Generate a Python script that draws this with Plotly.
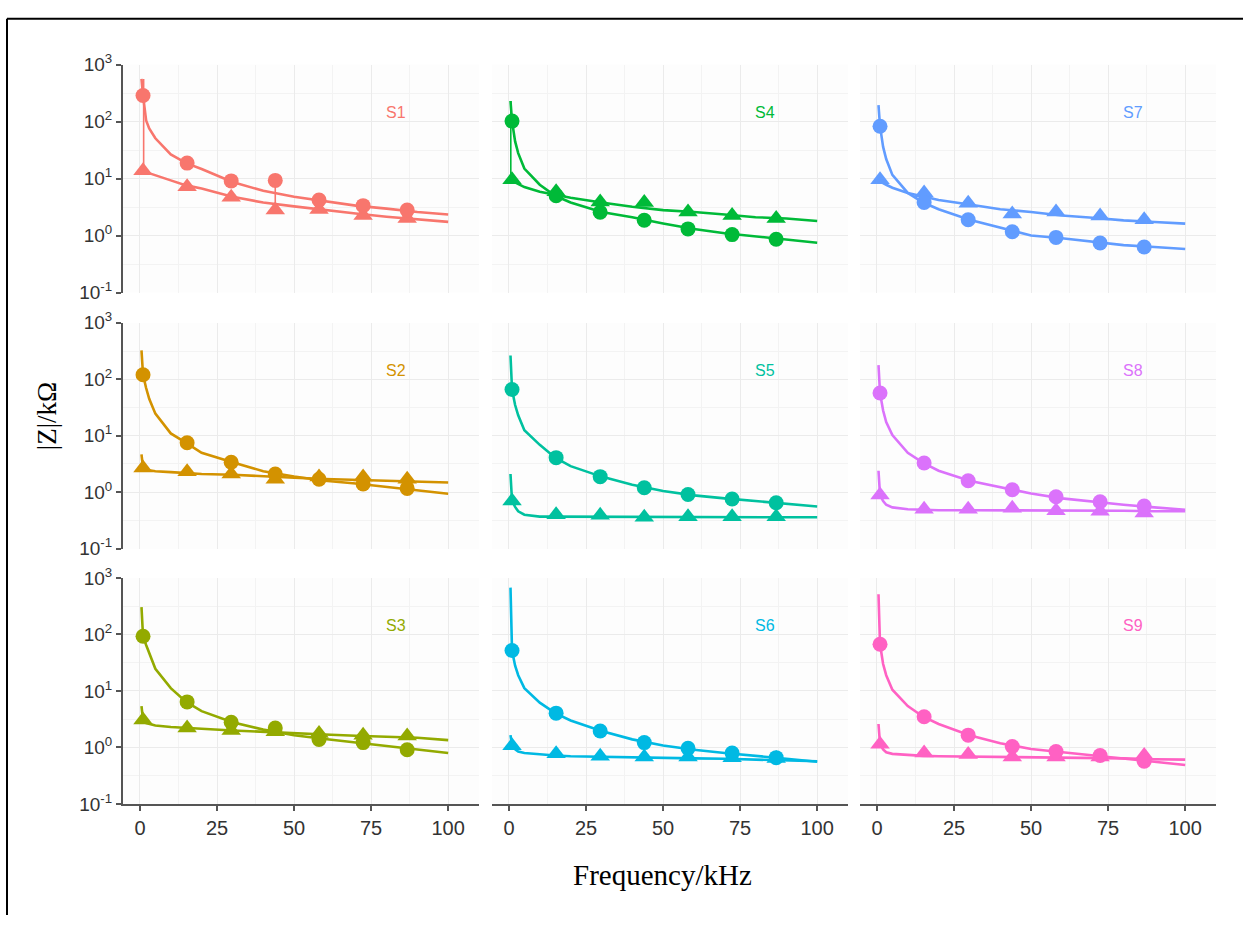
import plotly.graph_objects as go

# ---------------- data ----------------
panels = ["S1", "S2", "S3", "S4", "S5", "S6", "S7", "S8", "S9"]
colors = ["#F8766D", "#D39200", "#93AA00", "#00BA38", "#00C19F",
          "#00B9E3", "#619CFF", "#DB72FB", "#FF61C3"]

marker_x = [1, 15.3, 29.6, 43.9, 58.1, 72.4, 86.7]
circle_pts = {
    "S1": [288, 18.7, 9.1, 9.3, 4.2, 3.35, 2.8],
    "S2": [120, 7.5, 3.4, 2.1, 1.7, 1.4, 1.17],
    "S3": [93, 6.4, 2.8, 2.2, 1.39, 1.22, 0.91],
    "S4": [102, 5.0, 2.56, 1.86, 1.31, 1.04, 0.86],
    "S5": [66, 4.1, 1.89, 1.2, 0.91, 0.76, 0.65],
    "S6": [52, 4.05, 1.96, 1.22, 0.97, 0.8, 0.66],
    "S7": [83, 3.8, 1.9, 1.17, 0.93, 0.74, 0.63],
    "S8": [57, 3.3, 1.6, 1.11, 0.83, 0.68, 0.57],
    "S9": [67, 3.5, 1.65, 1.04, 0.85, 0.72, 0.57],
}
triangle_pts = {
    "S1": [13.8, 7.2, 4.7, 2.8, 2.86, 2.25, 2.0],
    "S2": [2.7, 2.3, 2.1, 1.7, 1.86, 1.86, 1.7],
    "S3": [3.07, 2.2, 2.0, 1.9, 1.76, 1.65, 1.59],
    "S4": [9.5, 5.9, 3.9, 3.8, 2.6, 2.25, 2.0],
    "S5": [0.70, 0.40, 0.39, 0.36, 0.37, 0.37, 0.37],
    "S6": [1.07, 0.77, 0.70, 0.68, 0.68, 0.66, 0.64],
    "S7": [9.5, 5.6, 3.7, 2.4, 2.6, 2.2, 1.9],
    "S8": [0.89, 0.50, 0.50, 0.52, 0.47, 0.46, 0.43],
    "S9": [1.14, 0.80, 0.75, 0.68, 0.68, 0.68, 0.72],
}

line_x = [0.5, 1, 2, 3, 5, 10, 15, 20, 30, 40, 50, 60, 70, 80, 90, 100]
circle_line = {
    "S1": [560, 288, 105, 76, 51, 26.5, 18.7, 14.7, 8.7, 6.1, 4.8, 4.0, 3.35, 2.97, 2.6, 2.35],
    "S2": [325, 120, 70, 45, 24.6, 11, 7.5, 5.0, 3.4, 2.36, 1.9, 1.6, 1.43, 1.25, 1.1, 0.94],
    "S3": [305, 93, 65, 48, 24.7, 11.2, 6.4, 4.4, 2.8, 2.07, 1.65, 1.41, 1.23, 1.07, 0.91, 0.80],
    "S4": [230, 102, 45, 28, 15, 7.8, 5.0, 3.8, 2.6, 2.1, 1.63, 1.3, 1.1, 0.97, 0.86, 0.75],
    "S5": [263, 66, 35, 23, 12.5, 6.9, 4.1, 2.9, 1.89, 1.36, 1.05, 0.88, 0.78, 0.70, 0.64, 0.56],
    "S6": [675, 52, 28, 19, 11.2, 6.2, 4.05, 3.0, 1.96, 1.39, 1.08, 0.91, 0.80, 0.70, 0.63, 0.56],
    "S7": [195, 83, 36, 22, 11.6, 5.6, 3.8, 2.9, 1.9, 1.37, 1.0, 0.90, 0.78, 0.68, 0.63, 0.58],
    "S8": [178, 57, 28, 17.5, 10.3, 5.0, 3.3, 2.4, 1.6, 1.24, 0.95, 0.78, 0.68, 0.60, 0.54, 0.49],
    "S9": [515, 67, 30, 19, 10.5, 5.4, 3.5, 2.6, 1.65, 1.19, 0.94, 0.82, 0.73, 0.64, 0.56, 0.49],
}
triangle_line = {
    "S1": [13.8, 13.5, 12.8, 12.3, 11.3, 9.3, 7.6, 6.7, 4.8, 3.8, 3.26, 2.8, 2.44, 2.14, 1.93, 1.74],
    "S2": [4.7, 2.7, 2.5, 2.45, 2.36, 2.27, 2.2, 2.1, 2.04, 1.9, 1.81, 1.72, 1.67, 1.61, 1.57, 1.49],
    "S3": [5.4, 3.07, 2.7, 2.6, 2.45, 2.3, 2.2, 2.15, 2.0, 1.88, 1.76, 1.7, 1.61, 1.55, 1.49, 1.35],
    "S4": [9.5, 9.3, 8.6, 8.0, 7.1, 5.9, 5.2, 4.6, 3.8, 3.2, 2.8, 2.6, 2.34, 2.1, 2.0, 1.8],
    "S5": [2.1, 0.70, 0.55, 0.46, 0.40, 0.37, 0.37, 0.37, 0.37, 0.37, 0.37, 0.37, 0.37, 0.37, 0.36, 0.36],
    "S6": [1.65, 1.07, 0.93, 0.85, 0.80, 0.75, 0.72, 0.70, 0.68, 0.67, 0.66, 0.64, 0.63, 0.61, 0.59, 0.57],
    "S7": [9.5, 9.0, 8.3, 7.8, 6.9, 5.6, 4.8, 4.2, 3.5, 2.9, 2.6, 2.25, 2.06, 1.85, 1.73, 1.62],
    "S8": [2.4, 0.89, 0.70, 0.60, 0.54, 0.50, 0.49, 0.48, 0.48, 0.48, 0.48, 0.47, 0.47, 0.47, 0.46, 0.46],
    "S9": [2.6, 1.14, 0.92, 0.82, 0.77, 0.73, 0.71, 0.70, 0.69, 0.68, 0.68, 0.66, 0.65, 0.64, 0.62, 0.61],
}
# measured noise spikes (x, low, high)
spikes = {
    "S1": [(1.2, 13.8, 560), (43.9, 2.7, 9.3)],
    "S4": [(0.6, 9.5, 230)],
}

x_ticks = [0, 25, 50, 75, 100]
y_ticks = [0.1, 1, 10, 100, 1000]
y_ticktext = ["10<sup>-1</sup>", "10<sup>0</sup>", "10<sup>1</sup>", "10<sup>2</sup>", "10<sup>3</sup>"]
label_x, label_logy = 83, 2.16

# ---------------- layout geometry (pixels) ----------------
W, H = 1243, 926
col_px = [(123, 479), (492, 848), (860, 1216)]
row_px = [(53, 287), (318, 550), (580, 812)]

def xdom(c):
    a, b = col_px[c]
    return [a / W, b / W]

def ydom(r):
    a, b = row_px[r]
    return [1 - b / H, 1 - a / H]

fig = go.Figure()
layout = dict(
    width=W, height=H,
    margin=dict(l=0, r=0, t=0, b=0),
    paper_bgcolor="white", plot_bgcolor="#FDFDFD",
    showlegend=False,
    font=dict(family="Liberation Sans, Arial, sans-serif", color="#333333"),
)
annotations = []
AX_COL = "#555555"
GRID = "#EBEBEB"
MINOR = "#F3F3F3"

for i, name in enumerate(panels):
    c, r = i // 3, i % 3
    k = i + 1
    xa = "x" if k == 1 else f"x{k}"
    ya = "y" if k == 1 else f"y{k}"
    col = colors[i]
    fig.add_trace(go.Scatter(x=line_x, y=triangle_line[name], mode="lines",
                             line=dict(color=col, width=2.6), xaxis=xa, yaxis=ya))
    fig.add_trace(go.Scatter(x=line_x, y=circle_line[name], mode="lines",
                             line=dict(color=col, width=2.6), xaxis=xa, yaxis=ya))
    for sx, lo, hi in spikes.get(name, []):
        fig.add_trace(go.Scatter(x=[sx, sx], y=[lo, hi], mode="lines",
                                 line=dict(color=col, width=1.6), xaxis=xa, yaxis=ya))
    fig.add_trace(go.Scatter(x=marker_x, y=triangle_pts[name], mode="markers",
                             marker=dict(symbol="triangle-up", size=17, color=col),
                             xaxis=xa, yaxis=ya))
    fig.add_trace(go.Scatter(x=marker_x, y=circle_pts[name], mode="markers",
                             marker=dict(symbol="circle", size=15, color=col),
                             xaxis=xa, yaxis=ya))
    bottom = (r == 2)
    left = (c == 0)
    layout["xaxis" if k == 1 else f"xaxis{k}"] = dict(
        domain=xdom(c), anchor=ya, range=[-5.5, 110],
        tickvals=x_ticks, showticklabels=bottom,
        ticks="outside" if bottom else "", ticklen=5, tickwidth=1.5, tickcolor=AX_COL,
        showline=bottom, linecolor=AX_COL, linewidth=2,
        showgrid=True, gridcolor=GRID, gridwidth=1, zeroline=False,
        minor=dict(dtick=12.5, tick0=0, showgrid=True, gridcolor=MINOR, ticks=""),
        tickfont=dict(size=20, color="#333333"), fixedrange=True,
    )
    layout["yaxis" if k == 1 else f"yaxis{k}"] = dict(
        domain=ydom(r), anchor=xa, type="log", range=[-1, 3],
        tickvals=y_ticks, ticktext=y_ticktext, showticklabels=left,
        ticks="outside" if left else "", ticklen=5, tickwidth=1.5, tickcolor=AX_COL,
        showline=left, linecolor=AX_COL, linewidth=2,
        showgrid=True, gridcolor=GRID, gridwidth=1, zeroline=False,
        minor=dict(tickvals=[10 ** -0.5, 10 ** 0.5, 10 ** 1.5, 10 ** 2.5],
                   showgrid=True, gridcolor=MINOR, ticks=""),
        tickfont=dict(size=19, color="#333333"), fixedrange=True,
    )
    annotations.append(dict(x=label_x, y=label_logy, xref=xa, yref=ya, text=name,
                            showarrow=False, font=dict(size=16, color=col)))

annotations.append(dict(x=662 / W, y=1 - 885 / H, xref="paper", yref="paper",
                        xanchor="center", yanchor="middle",
                        text="Frequency/kHz", showarrow=False,
                        font=dict(family="Liberation Serif, Times New Roman, serif",
                                  size=29, color="#000000")))
annotations.append(dict(x=47 / W, y=1 - 414 / H, xref="paper", yref="paper",
                        xanchor="center", yanchor="middle",
                        text="|Z|/kΩ", showarrow=False, textangle=-90,
                        font=dict(family="Liberation Serif, Times New Roman, serif",
                                  size=27, color="#000000")))
layout["annotations"] = annotations
layout["shapes"] = [
    dict(type="line", xref="paper", yref="paper", x0=7 / W, x1=1, y0=1 - 6 / H, y1=1 - 6 / H,
         line=dict(color="black", width=2)),
    dict(type="line", xref="paper", yref="paper", x0=7 / W, x1=7 / W, y0=0, y1=1 - 6 / H,
         line=dict(color="black", width=2)),
]
fig.update_layout(**layout)
fig.write_html("out.html")
